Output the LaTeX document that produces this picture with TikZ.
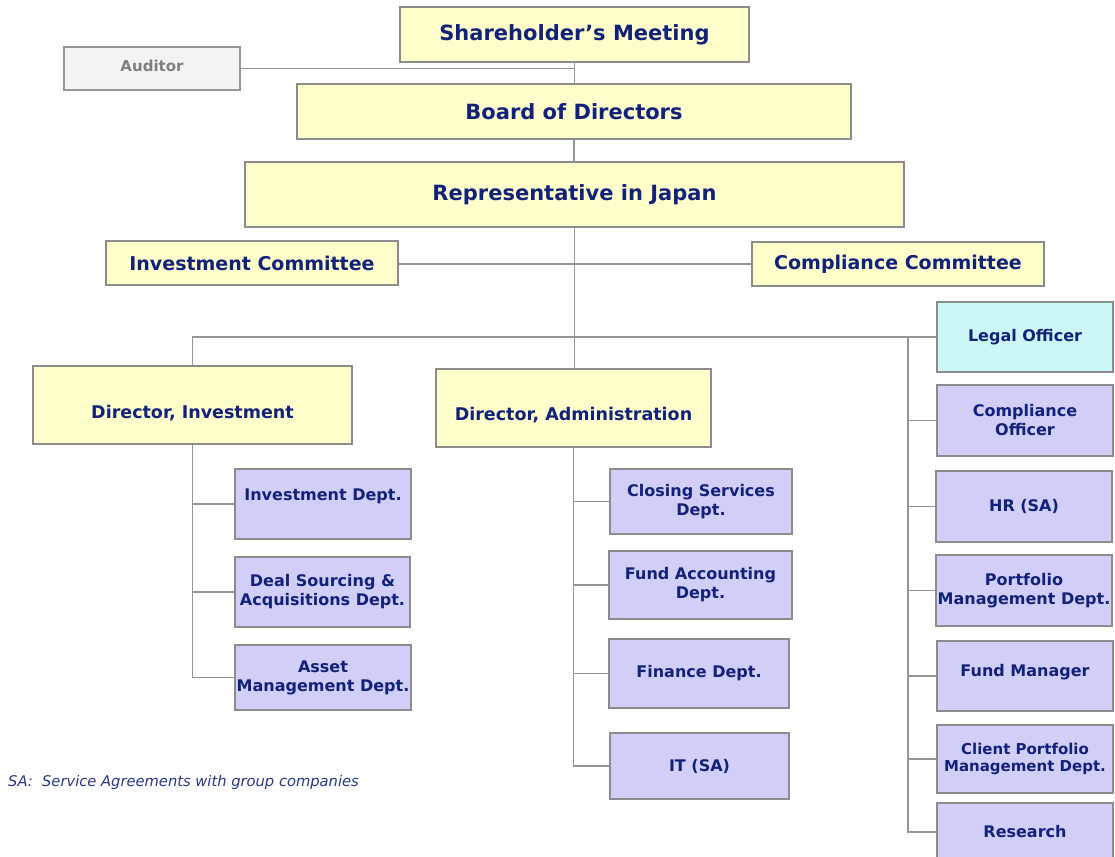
\documentclass[tikz,border=0pt]{standalone}
\usepackage{fontspec}
\setmainfont{DejaVu Sans}
\newcommand\rs[2]{\raisebox{#1}[0pt][0pt]{#2}}
\begin{document}
\begin{tikzpicture}[x=1pt,y=-1pt]
\definecolor{navy}{RGB}{18,33,122}
\definecolor{fnavy}{RGB}{40,55,135}
\definecolor{yel}{RGB}{255,255,204}
\definecolor{lav}{RGB}{209,207,247}
\definecolor{cyn}{RGB}{204,247,247}
\definecolor{gry}{RGB}{243,243,243}
\definecolor{gtext}{RGB}{128,128,128}
\definecolor{bordr}{RGB}{140,140,140}
\definecolor{lgray}{RGB}{150,150,150}
\tikzset{
  base/.style={draw=bordr, line width=1.4pt, align=center, text=navy, inner sep=1pt},
  ybox/.style={base, fill=yel},
  pbox/.style={base, fill=lav, font=\bfseries\fontsize{16}{19}\selectfont},
  cbox/.style={base, fill=cyn, font=\bfseries\fontsize{16}{19}\selectfont},
  gbox/.style={base, fill=gry, text=gtext, draw=lgray},
  big/.style={font=\bfseries\fontsize{21}{25}\selectfont},
  mid/.style={font=\bfseries\fontsize{19}{23}\selectfont},
  dir/.style={font=\bfseries\fontsize{17.5}{21}\selectfont},
  conn/.style={draw=lgray, line width=1.2pt},
}
\useasboundingbox (0,0) rectangle (1115,856);

% top
\node[ybox, big, minimum width=349pt, minimum height=55pt] (sh) at (574.5,34.5) {Shareholder’s Meeting};
\node[gbox, font=\bfseries\fontsize{15}{18}\selectfont, minimum width=176pt, minimum height=43pt] (aud) at (152,68.5) {\rs{-3pt}{Auditor}};
\node[ybox, big, minimum width=554pt, minimum height=55pt] (bod) at (574,111.5) {Board of Directors};
\node[ybox, big, minimum width=659pt, minimum height=65pt] (rep) at (574.5,194.5) {Representative in Japan};
\node[ybox, mid, minimum width=292pt, minimum height=44pt] (ic) at (252,263) {Investment Committee};
\node[ybox, mid, minimum width=292pt, minimum height=44pt] (cc) at (898,264) {Compliance Committee};

% directors
\node[ybox, dir, minimum width=319pt, minimum height=78pt] (dinv) at (192.5,405) {\rs{-13pt}{Director, Investment}};
\node[ybox, dir, minimum width=275pt, minimum height=78pt] (dadm) at (573.5,408) {\rs{-12pt}{Director, Administration}};

% investment depts
\node[pbox, minimum width=176pt, minimum height=70pt] (idep) at (323,504) {\rs{4pt}{Investment Dept.}};
\node[pbox, minimum width=175pt, minimum height=70pt] (dsa) at (322.5,592) {Deal Sourcing \&\\Acquisitions Dept.};
\node[pbox, minimum width=176pt, minimum height=65pt] (amd) at (323,677.5) {Asset\\Management Dept.};

% admin depts
\node[pbox, minimum width=182pt, minimum height=65pt] (csd) at (701,501.5) {Closing Services\\Dept.};
\node[pbox, minimum width=183pt, minimum height=68pt] (fad) at (700.5,585) {Fund Accounting\\Dept.};
\node[pbox, minimum width=180pt, minimum height=69pt] (fin) at (699,673.5) {Finance Dept.};
\node[pbox, minimum width=179pt, minimum height=66pt] (it) at (699.5,766) {IT (SA)};

% right column
\node[cbox, minimum width=176pt, minimum height=70pt] (lo) at (1025,337) {Legal Officer};
\node[pbox, minimum width=176pt, minimum height=71pt] (co) at (1025,420.5) {Compliance\\Officer};
\node[pbox, minimum width=176pt, minimum height=71pt] (hr) at (1024,506.5) {HR (SA)};
\node[pbox, minimum width=176pt, minimum height=71pt] (pmd) at (1024,590.5) {Portfolio\\Management Dept.};
\node[pbox, minimum width=176pt, minimum height=70pt] (fm) at (1025,676) {\rs{0pt}{Fund Manager}};
\node[pbox, font=\bfseries\fontsize{15}{17}\selectfont, minimum width=176pt, minimum height=68pt] (cpm) at (1025,759) {Client Portfolio\\Management Dept.};
\node[pbox, minimum width=176pt, minimum height=58pt] (res) at (1025,832) {Research};

% footnote
\node[anchor=base west, inner sep=0pt, text=fnavy, font=\itshape\fontsize{14.7}{17}\selectfont] (fn) at (8,786) {SA:\ \ Service Agreements with group companies};

% connectors
\coordinate (rv) at (908,337);
\draw[conn] (sh.south) -- (sh.south |- bod.north);
\draw[conn] (aud.east) -- (aud.east -| sh.south);
\draw[conn] (bod.south) -- (bod.south |- rep.north);
\draw[conn] (cc.west -| ic.east) -- (cc.west);
\draw[conn] (rep.south) -- (rep.south |- dadm.north);
\draw[conn] (dinv.north) |- (lo.west);
\draw[conn] (rv) |- (co.west);
\draw[conn] (rv) |- (hr.west);
\draw[conn] (rv) |- (pmd.west);
\draw[conn] (rv) |- (fm.west);
\draw[conn] (rv) |- (cpm.west);
\draw[conn] (rv) |- (res.west);
\draw[conn] (dinv.south) |- (idep.west);
\draw[conn] (dinv.south) |- (dsa.west);
\draw[conn] (dinv.south) |- (amd.west);
\draw[conn] (dadm.south) |- (csd.west);
\draw[conn] (dadm.south) |- (fad.west);
\draw[conn] (dadm.south) |- (fin.west);
\draw[conn] (dadm.south) |- (it.west);
\end{tikzpicture}
\end{document}
